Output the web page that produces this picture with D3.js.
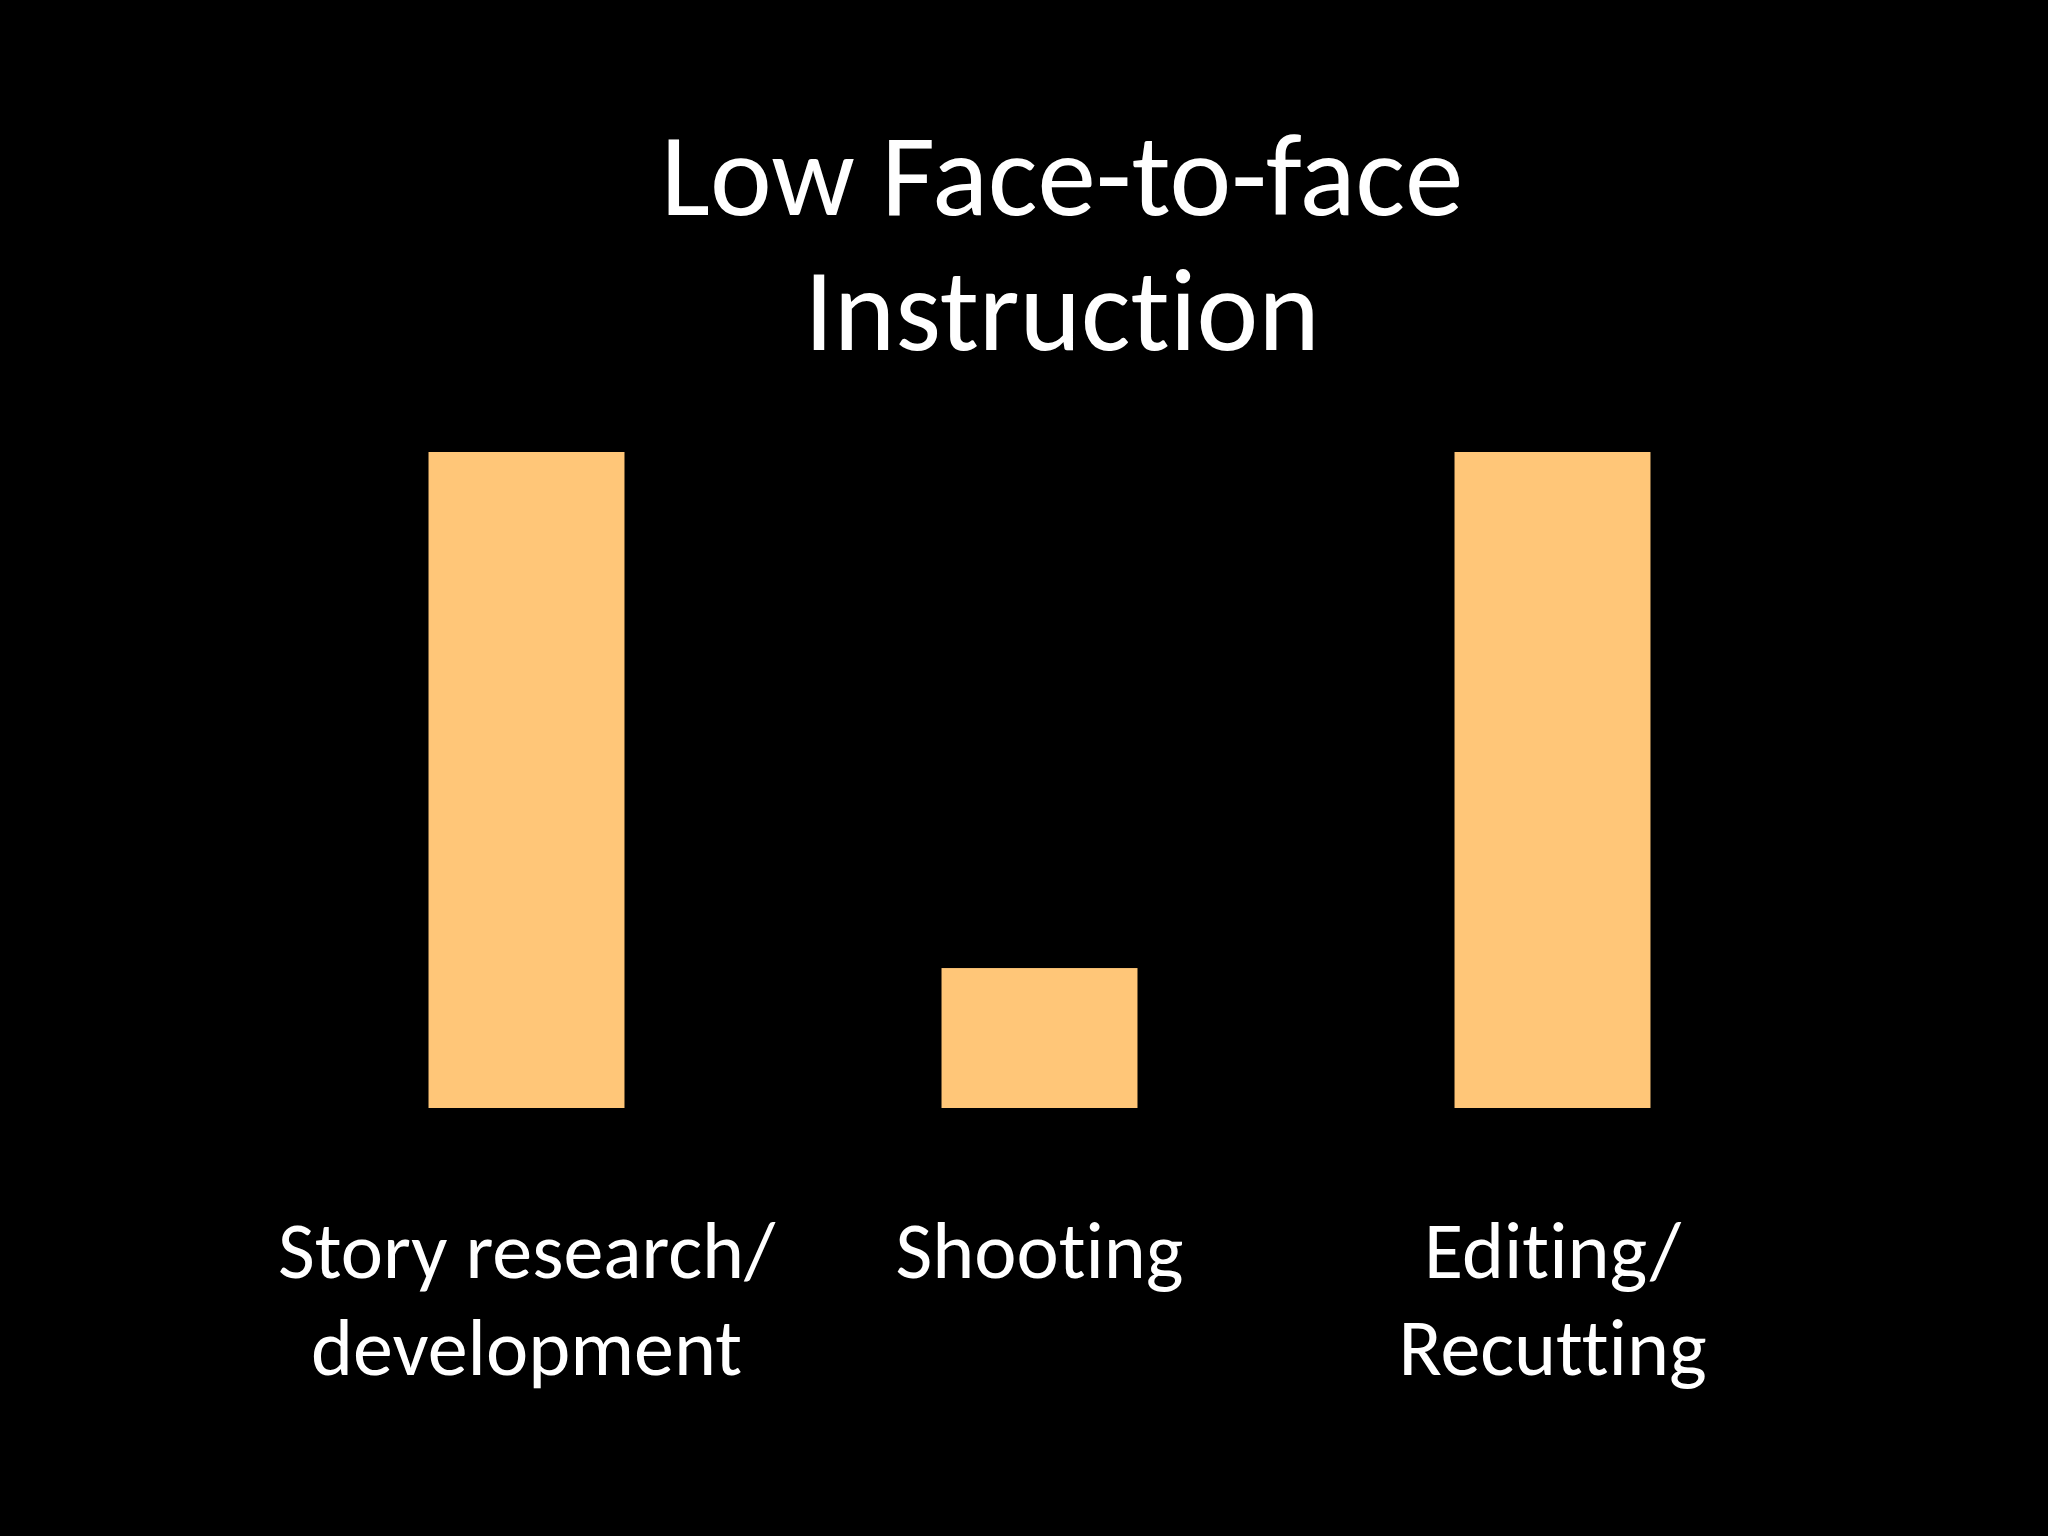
<!DOCTYPE html>
<html>
<head>
<meta charset="utf-8">
<script src="https://cdn.jsdelivr.net/npm/d3@7"></script>
<style>
  html, body { margin: 0; padding: 0; background: #000; }
  svg { display: block; }
  text { font-variant-ligatures: none; }
</style>
</head>
<body>
<div id="chart"></div>
<script>
const titleLines = ['Low Face-to-face', 'Instruction'];
const categories = ['Story research/ development', 'Shooting', 'Editing/ Recutting'];
const labelLines = [['Story research/', 'development'], ['Shooting'], ['Editing/', 'Recutting']];
const values = [75, 16, 75];

const width = 2048, height = 1536;
const font = 'Carlito, Calibri, Lato, sans-serif';

const svg = d3.select('#chart')
    .append('svg')
    .attr('width', width)
    .attr('height', height);

svg.append('rect')
    .attr('width', width)
    .attr('height', height)
    .attr('fill', '#000');

// x: three slots, bars about 38% of the step
const x = d3.scaleBand()
    .domain(categories)
    .range([270, 1809])
    .paddingInner(0.618)
    .paddingOuter(0.309);

const y = d3.scaleLinear()
    .domain([0, d3.max(values)])
    .range([1108, 452]);

svg.append('g')
    .selectAll('rect')
    .data(values)
    .join('rect')
    .attr('x', (d, i) => x(categories[i]))
    .attr('y', d => y(d))
    .attr('width', x.bandwidth())
    .attr('height', d => y(0) - y(d))
    .attr('fill', '#ffc678');

// title
svg.append('text')
    .attr('x', 1062)
    .attr('y', 215)
    .attr('text-anchor', 'middle')
    .attr('fill', '#fff')
    .style('font-family', font)
    .style('font-size', '117px')
    .selectAll('tspan')
    .data(titleLines)
    .join('tspan')
    .attr('x', 1062)
    .attr('dy', (d, i) => i === 0 ? 0 : 135)
    .text(d => d);

// category labels
svg.append('g')
    .selectAll('text')
    .data(categories)
    .join('text')
    .attr('x', d => x(d) + x.bandwidth() / 2)
    .attr('y', 1278)
    .attr('text-anchor', 'middle')
    .attr('fill', '#fff')
    .style('font-family', font)
    .style('font-size', '80px')
    .each(function (d, i) {
        d3.select(this).selectAll('tspan')
            .data(labelLines[i])
            .join('tspan')
            .attr('x', x(d) + x.bandwidth() / 2)
            .attr('dy', (l, j) => j === 0 ? 0 : 97)
            .text(l => l);
    });
</script>
</body>
</html>
